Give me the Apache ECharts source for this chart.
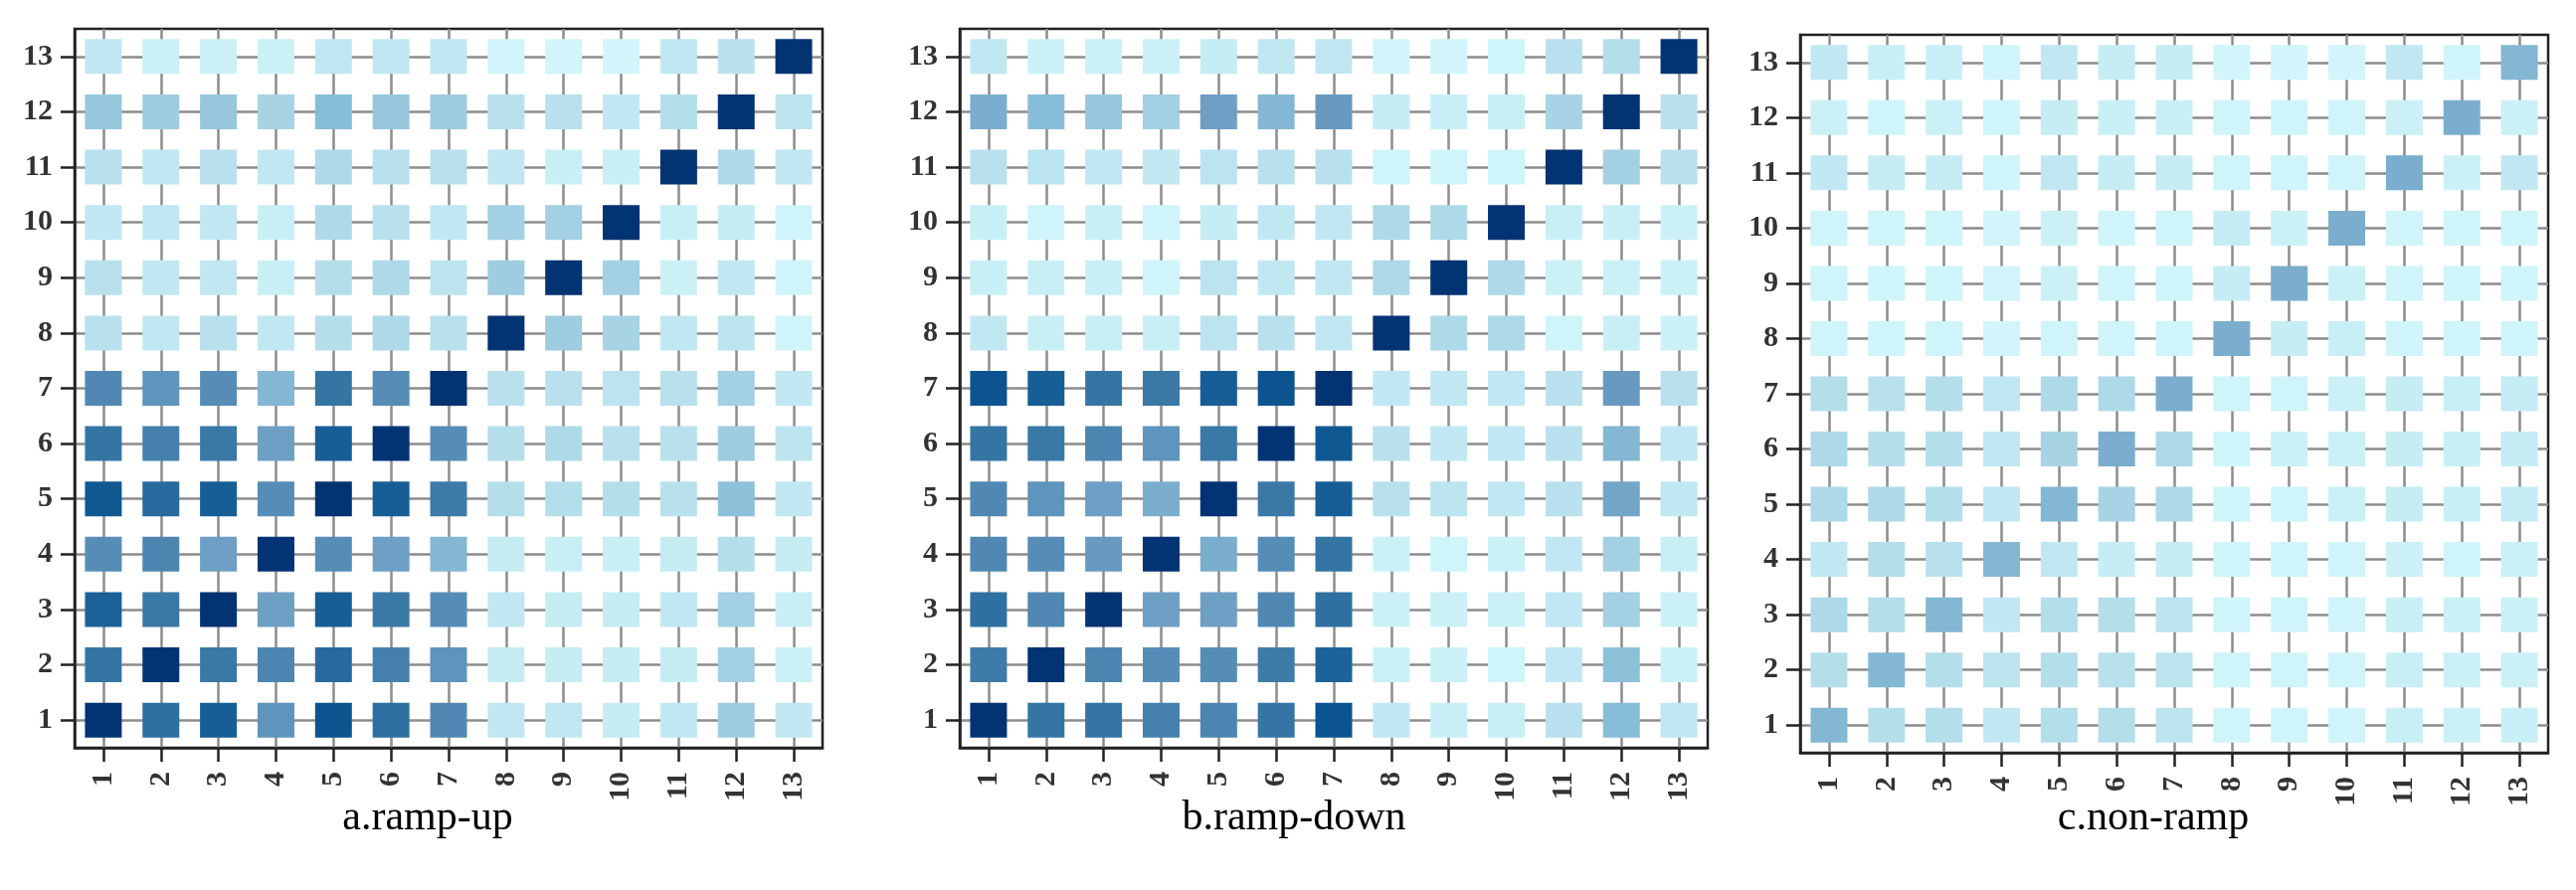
<!DOCTYPE html>
<html>
<head>
<meta charset="utf-8">
<script src="https://cdn.jsdelivr.net/npm/echarts@6/dist/echarts.min.js"></script>
<style>
html,body{margin:0;padding:0;background:#fff;}
#chart{width:2590px;height:895px;}
</style>
</head>
<body>
<div id="chart"></div>
<script>
// Tick labels
const xLabels = ['1','2','3','4','5','6','7','8','9','10','11','12','13'];
const yLabels = ['1','2','3','4','5','6','7','8','9','10','11','12','13'];
const panelTitles = ['a.ramp-up', 'b.ramp-down', 'c.non-ramp'];

// Colour intensity per cell (rows: y = 1..13, columns: x = 1..13)
const rampUp = [
  [1.00,0.75,0.85,0.55,0.90,0.75,0.60,0.15,0.15,0.12,0.15,0.32,0.15],
  [0.72,1.00,0.70,0.62,0.78,0.65,0.55,0.12,0.12,0.12,0.12,0.30,0.08],
  [0.83,0.70,1.00,0.50,0.85,0.70,0.58,0.15,0.12,0.12,0.15,0.30,0.10],
  [0.58,0.62,0.50,1.00,0.58,0.50,0.42,0.12,0.10,0.10,0.12,0.22,0.12],
  [0.88,0.78,0.85,0.58,1.00,0.85,0.68,0.22,0.22,0.22,0.20,0.38,0.15],
  [0.72,0.65,0.70,0.50,0.85,1.00,0.58,0.22,0.25,0.20,0.20,0.32,0.18],
  [0.60,0.55,0.58,0.42,0.72,0.58,1.00,0.20,0.20,0.18,0.20,0.30,0.15],
  [0.20,0.15,0.20,0.15,0.22,0.25,0.20,1.00,0.32,0.28,0.15,0.18,0.05],
  [0.20,0.15,0.15,0.10,0.22,0.25,0.18,0.32,1.00,0.30,0.08,0.15,0.05],
  [0.15,0.15,0.15,0.10,0.25,0.20,0.15,0.30,0.30,1.00,0.10,0.12,0.05],
  [0.20,0.15,0.20,0.15,0.25,0.20,0.20,0.15,0.10,0.10,1.00,0.25,0.15],
  [0.35,0.32,0.35,0.28,0.40,0.35,0.32,0.20,0.20,0.15,0.22,1.00,0.18],
  [0.15,0.08,0.08,0.08,0.15,0.15,0.15,0.03,0.03,0.03,0.15,0.20,1.00]
];
const rampDown = [
  [1.00,0.72,0.72,0.65,0.62,0.72,0.90,0.15,0.10,0.10,0.20,0.40,0.15],
  [0.68,1.00,0.62,0.58,0.58,0.68,0.82,0.08,0.08,0.05,0.15,0.38,0.08],
  [0.75,0.60,1.00,0.50,0.50,0.60,0.75,0.08,0.08,0.08,0.15,0.30,0.08],
  [0.60,0.58,0.52,1.00,0.45,0.58,0.72,0.08,0.05,0.08,0.15,0.30,0.10],
  [0.60,0.55,0.50,0.45,1.00,0.70,0.85,0.20,0.18,0.15,0.20,0.48,0.15],
  [0.72,0.70,0.62,0.55,0.70,1.00,0.88,0.20,0.15,0.15,0.20,0.42,0.15],
  [0.90,0.85,0.72,0.70,0.85,0.90,1.00,0.15,0.15,0.15,0.20,0.52,0.20],
  [0.15,0.10,0.10,0.10,0.18,0.20,0.15,1.00,0.25,0.25,0.05,0.10,0.08],
  [0.10,0.10,0.10,0.05,0.18,0.15,0.15,0.25,1.00,0.25,0.08,0.08,0.08],
  [0.10,0.05,0.10,0.05,0.12,0.15,0.15,0.25,0.25,1.00,0.10,0.10,0.08],
  [0.20,0.18,0.15,0.15,0.18,0.20,0.20,0.05,0.05,0.05,1.00,0.30,0.20],
  [0.45,0.40,0.35,0.30,0.50,0.42,0.52,0.12,0.10,0.10,0.28,1.00,0.20],
  [0.15,0.08,0.08,0.08,0.12,0.15,0.15,0.03,0.03,0.05,0.20,0.22,1.00]
];
const nonRamp = [
  [0.42,0.22,0.22,0.15,0.22,0.22,0.18,0.05,0.05,0.05,0.10,0.08,0.10],
  [0.22,0.42,0.22,0.18,0.22,0.20,0.18,0.05,0.05,0.05,0.10,0.08,0.08],
  [0.25,0.22,0.42,0.15,0.22,0.22,0.18,0.05,0.05,0.05,0.10,0.08,0.08],
  [0.15,0.22,0.20,0.42,0.15,0.12,0.12,0.05,0.05,0.05,0.08,0.05,0.08],
  [0.25,0.25,0.22,0.15,0.42,0.28,0.25,0.05,0.05,0.08,0.12,0.10,0.12],
  [0.25,0.22,0.22,0.15,0.28,0.45,0.25,0.05,0.08,0.08,0.12,0.10,0.12],
  [0.22,0.20,0.22,0.15,0.25,0.25,0.45,0.05,0.05,0.08,0.12,0.10,0.12],
  [0.05,0.05,0.05,0.03,0.05,0.05,0.05,0.45,0.12,0.10,0.05,0.05,0.05],
  [0.05,0.05,0.05,0.03,0.08,0.05,0.05,0.12,0.45,0.08,0.05,0.05,0.05],
  [0.05,0.05,0.05,0.03,0.08,0.05,0.05,0.12,0.08,0.45,0.05,0.05,0.05],
  [0.15,0.12,0.12,0.05,0.15,0.12,0.12,0.05,0.05,0.05,0.45,0.08,0.15],
  [0.08,0.05,0.08,0.05,0.12,0.10,0.10,0.05,0.05,0.05,0.08,0.45,0.08],
  [0.15,0.10,0.10,0.05,0.15,0.12,0.12,0.03,0.03,0.03,0.15,0.05,0.42]
];
const colorScale = ['#d4f8fc','#c9eff6','#b9e1ed','#a3d0e2','#88bdd7','#6e9fc5','#5088b3','#3a78a6','#22679b','#0b5490','#023373'];

const panels = [rampUp, rampDown, nonRamp];
const gridBoxes = [
  {left: 75, top: 29, width: 752, height: 723},
  {left: 965, top: 29, width: 752, height: 723},
  {left: 1810, top: 35, width: 752, height: 722}
];
const titleCenters = [425, 1296, 2160];

const tickVals = xLabels.map((_, i) => i + 1);
const serif = 'Liberation Serif';
const axisColor = '#222';

function toData(m) {
  const out = [];
  m.forEach((row, yi) => row.forEach((v, xi) => out.push([xi + 1, yi + 1, v])));
  return out;
}

const grids = [], xAxes = [], yAxes = [], series = [], titles = [];
panels.forEach((m, i) => {
  grids.push(Object.assign({show: true, borderColor: axisColor, borderWidth: 2.5, backgroundColor: 'transparent', containLabel: false}, gridBoxes[i]));
  const common = {
    type: 'value', gridIndex: i, min: 0.5, max: 13.5,
    axisLine: {show: true, onZero: false, lineStyle: {color: axisColor, width: 2.5}},
    axisTick: {show: true, inside: false, length: 14, customValues: tickVals, lineStyle: {color: axisColor, width: 2.5}},
    splitLine: {show: true, lineStyle: {color: '#8c8c8c', width: 2.5}}
  };
  xAxes.push(Object.assign({}, common, {
    position: 'bottom',
    axisLabel: {customValues: tickVals, rotate: 90, margin: 24, fontFamily: serif, fontSize: 30, fontWeight: 'bold', color: '#333',
      formatter: v => xLabels[Math.round(v) - 1]}
  }));
  yAxes.push(Object.assign({}, common, {
    position: 'left',
    axisLabel: {customValues: tickVals, margin: 22, fontFamily: serif, fontSize: 30, fontWeight: 'bold', color: '#333',
      formatter: v => yLabels[Math.round(v) - 1]}
  }));
  series.push({
    type: 'scatter', xAxisIndex: i, yAxisIndex: i,
    symbol: 'rect', symbolSize: [37, 35],
    itemStyle: {opacity: 1},
    emphasis: {disabled: true},
    data: toData(m)
  });
  titles.push({
    text: panelTitles[i], left: titleCenters[i], top: 797, textAlign: 'center',
    textStyle: {fontFamily: serif, fontSize: 42, fontWeight: 'normal', color: '#000'}
  });
});

const chart = echarts.init(document.getElementById('chart'), null, {renderer: 'canvas'});
chart.setOption({
  backgroundColor: '#fff',
  animation: false,
  title: titles,
  grid: grids,
  xAxis: xAxes,
  yAxis: yAxes,
  visualMap: {
    type: 'continuous', show: false, min: 0, max: 1, dimension: 2,
    seriesIndex: [0, 1, 2],
    inRange: {color: colorScale}
  },
  series: series
});
</script>
</body>
</html>
